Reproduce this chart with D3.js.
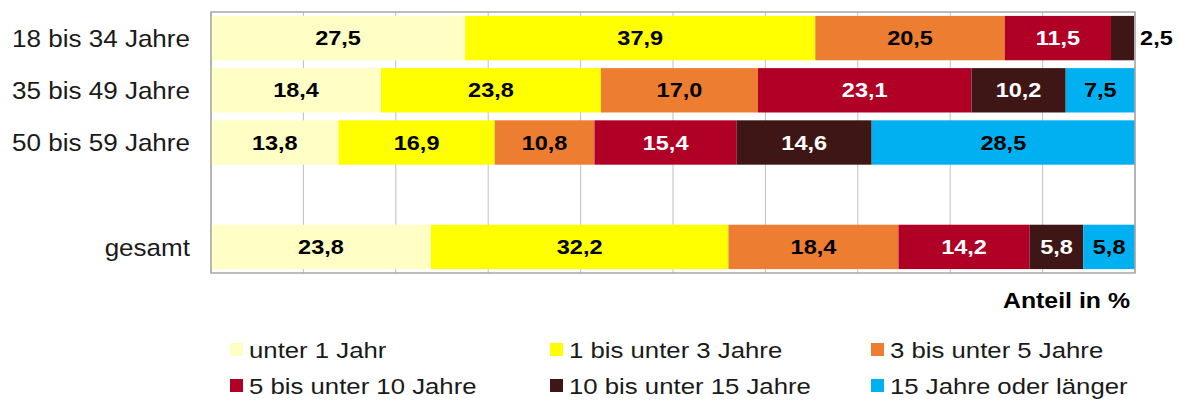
<!DOCTYPE html>
<html>
<head>
<meta charset="utf-8">
<script src="https://cdnjs.cloudflare.com/ajax/libs/d3/7.8.5/d3.min.js"></script>
<style>
  body { margin: 0; background: #fff; }
  svg { display: block; font-family: "Liberation Sans", Arial, sans-serif; }
</style>
</head>
<body>
<div id="chart"></div>
<script>
const width = 1179;
const height = 401;

// data
const groups = ["18 bis 34 Jahre", "35 bis 49 Jahre", "50 bis 59 Jahre", "", "gesamt"];
const keys = ["unter 1 Jahr", "1 bis unter 3 Jahre", "3 bis unter 5 Jahre",
              "5 bis unter 10 Jahre", "10 bis unter 15 Jahre", "15 Jahre oder länger"];
const colors = ["#ffffc5", "#ffff00", "#ed7d31", "#b10026", "#3e1616", "#00b0f0"];
const labelColors = ["#000", "#000", "#000", "#fff", "#fff", "#000"];
const age18to34 = [27.5, 37.9, 20.5, 11.5, 2.5, 0];
const age35to49 = [18.4, 23.8, 17.0, 23.1, 10.2, 7.5];
const age50to59 = [13.8, 16.9, 10.8, 15.4, 14.6, 28.5];
const total     = [23.8, 32.2, 18.4, 14.2, 5.8, 5.8];
const xTicks = [0, 10, 20, 30, 40, 50, 60, 70, 80, 90, 100];

const rows = [
    { group: groups[0], values: age18to34 },
    { group: groups[1], values: age35to49 },
    { group: groups[2], values: age50to59 },
    { group: groups[4], values: total }
];
const table = rows.map(r => {
    const o = { group: r.group };
    keys.forEach((k, i) => o[k] = r.values[i]);
    return o;
});

const plotLeft = 211, plotRight = 1135, plotTop = 12, plotBottom = 273;

const x = d3.scaleLinear().domain([0, 100]).range([plotLeft, plotRight]);
const y = d3.scaleBand().domain(groups).range([plotTop, plotBottom])
    .paddingInner(0.15).paddingOuter(0.075);
const fmt = d3.formatLocale({ decimal: ",", thousands: ".", grouping: [3], currency: ["", "€"] }).format(".1f");

const svg = d3.select("#chart").append("svg")
    .attr("width", width)
    .attr("height", height);

svg.append("defs").append("clipPath")
    .attr("id", "plot-clip")
    .append("rect")
    .attr("x", plotLeft).attr("y", plotTop)
    .attr("width", plotRight - plotLeft).attr("height", plotBottom - plotTop);

// the source picture is stretched sideways a bit, so text gets a small x scale
function stretchedText(parent, tx, ty, str, sx) {
    return parent.append("text")
        .attr("transform", `translate(${tx},${ty}) scale(${sx},1)`)
        .text(str);
}

// grid lines
svg.append("g")
    .selectAll("line")
    .data(xTicks)
    .enter().append("line")
    .attr("x1", d => x(d)).attr("x2", d => x(d))
    .attr("y1", plotTop).attr("y2", plotBottom)
    .attr("stroke", "#bfbfbf")
    .attr("stroke-width", 1);

// stacked bars
const series = d3.stack().keys(keys)(table);
const layers = svg.append("g")
    .attr("clip-path", "url(#plot-clip)")
    .selectAll("g")
    .data(series)
    .enter().append("g")
    .attr("fill", (d, i) => colors[i]);

layers.selectAll("rect")
    .data(d => d)
    .enter().append("rect")
    .attr("x", d => x(d[0]))
    .attr("y", d => y(d.data.group))
    .attr("width", d => x(d[1]) - x(d[0]))
    .attr("height", y.bandwidth());

// plot frame
svg.append("rect")
    .attr("x", plotLeft).attr("y", plotTop)
    .attr("width", plotRight - plotLeft).attr("height", plotBottom - plotTop)
    .attr("fill", "none")
    .attr("stroke", "#a6a6a6")
    .attr("stroke-width", 1.5);

// value labels
const labels = svg.append("g")
    .attr("font-size", "21px")
    .attr("font-weight", "bold")
    .attr("text-anchor", "middle")
    .attr("dominant-baseline", "central");

series.forEach((s, i) => {
    s.forEach(d => {
        const v = d[1] - d[0];
        if (v <= 0) return;
        const x0 = x(d[0]), x1 = Math.min(x(d[1]), plotRight);
        const cy = y(d.data.group) + y.bandwidth() / 2;
        if (x1 - x0 < 40) {
            stretchedText(labels, x1 + 6, cy, fmt(v), 1.12)
                .attr("text-anchor", "start")
                .attr("fill", "#000");
        } else {
            stretchedText(labels, (x0 + x1) / 2, cy, fmt(v), 1.12)
                .attr("fill", labelColors[i]);
        }
    });
});

// category labels
const cats = svg.append("g")
    .attr("font-size", "24px")
    .attr("fill", "#1a1a1a")
    .attr("text-anchor", "end")
    .attr("dominant-baseline", "central");
groups.filter(g => g !== "").forEach(g => {
    stretchedText(cats, 190, y(g) + y.bandwidth() / 2, g, 1.085);
});

// axis title
stretchedText(svg, 1130, 308, "Anteil in %", 1.13)
    .attr("font-size", "22px")
    .attr("font-weight", "bold")
    .attr("text-anchor", "end");

// legend
const legendX = [230, 550, 871];
const legendY = [350, 386];
const legend = svg.append("g");
keys.forEach((k, i) => {
    const lx = legendX[i % 3];
    const ly = legendY[Math.floor(i / 3)];
    legend.append("rect")
        .attr("x", lx).attr("y", ly - 7)
        .attr("width", 13).attr("height", 13)
        .attr("fill", colors[i]);
    stretchedText(legend, lx + 19, ly + 8, k, 1.12)
        .attr("font-size", "23px")
        .attr("fill", "#1a1a1a");
});
</script>
</body>
</html>
